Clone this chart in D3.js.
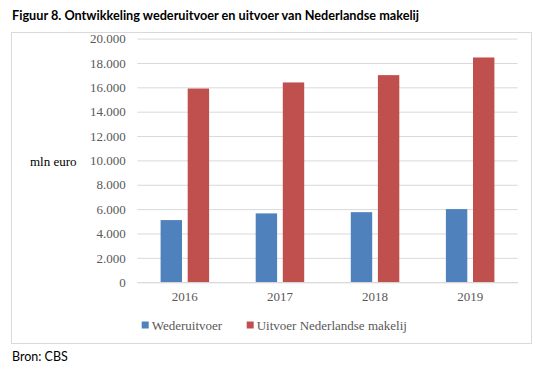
<!DOCTYPE html>
<html>
<head>
<meta charset="utf-8">
<script src="https://cdn.jsdelivr.net/npm/d3@7"></script>
<style>
  html, body { margin: 0; padding: 0; background: #fff; }
  svg { display: block; }
</style>
</head>
<body>
<svg id="chart" width="542" height="371"></svg>
<script>
const categories = ["2016", "2017", "2018", "2019"];
const seriesNames = ["Wederuitvoer", "Uitvoer Nederlandse makelij"];
const wederuitvoer = [5100, 5650, 5750, 6000];
const uitvoerNL = [15900, 16400, 17000, 18450];
const yTicks = [0, 2000, 4000, 6000, 8000, 10000, 12000, 14000, 16000, 18000, 20000];
const seriesColors = ["#4f81bd", "#c0504d"];
const titleText = "Figuur 8. Ontwikkeling wederuitvoer en uitvoer van Nederlandse makelij";
const sourceText = "Bron: CBS";
const yAxisTitle = "mln euro";

(function () {
const seriesValues = [wederuitvoer, uitvoerNL];
const rows = categories.map((c, i) => ({ cat: c, vals: seriesNames.map((s, j) => ({ s, j, v: seriesValues[j][i] })) }));

const svg = d3.select("#chart");
const serif = "'Liberation Serif', 'DejaVu Serif', serif";
const sans = "Lato, 'Open Sans', sans-serif";

// Title
svg.append("text")
  .attr("x", 12).attr("y", 20)
  .attr("font-family", sans).attr("font-weight", "bold")
  .attr("font-size", 12.7).attr("fill", "#000")
  .text(titleText);

// Chart frame
svg.append("rect")
  .attr("x", 11.5).attr("y", 32.5).attr("width", 520).attr("height", 311)
  .attr("fill", "#fff").attr("stroke", "#d9d9d9").attr("stroke-width", 1);

const pLeft = 137.3, pRight = 517.7, pTop = 38.6, pBottom = 282.2;

const x0 = d3.scaleBand().domain(categories).range([pLeft, pRight]).padding(0);
const half = 27.1;
const x1 = d3.scaleBand().domain(seriesNames).range([-half, half]).paddingInner(0.21).paddingOuter(0.105);
const y = d3.scaleLinear().domain([0, 20000]).range([pBottom, pTop]);

const fmt = v => d3.format(",")(v).replace(/,/g, ".");

// Gridlines + y labels via axis
const yAxis = d3.axisLeft(y).tickValues(yTicks).tickFormat(fmt).tickSize(-(pRight - pLeft)).tickPadding(11.6);
const gy = svg.append("g").attr("transform", `translate(${pLeft},0)`).call(yAxis);
gy.select(".domain").remove();
gy.selectAll(".tick line").attr("stroke", "#d9d9d9").attr("stroke-width", 1);
gy.selectAll(".tick text").attr("font-family", serif).attr("font-size", 13).attr("fill", "#595959");

// Bars
const groups = svg.append("g").selectAll("g").data(rows).join("g")
  .attr("transform", d => `translate(${x0(d.cat) + x0.bandwidth() / 2},0)`);
groups.selectAll("rect").data(d => d.vals).join("rect")
  .attr("x", d => x1(d.s))
  .attr("width", x1.bandwidth())
  .attr("y", d => y(d.v))
  .attr("height", d => y(0) - y(d.v))
  .attr("fill", d => seriesColors[d.j]);

// X axis
const xAxis = d3.axisBottom(x0).tickSize(0).tickPadding(10);
const gx = svg.append("g").attr("transform", `translate(0,${pBottom})`).call(xAxis);
gx.select(".domain").attr("stroke", "#d9d9d9");
gx.selectAll(".tick text").attr("font-family", serif).attr("font-size", 13).attr("fill", "#595959");

// Y axis title
svg.append("text")
  .attr("x", 30).attr("y", 166)
  .attr("font-family", serif).attr("font-size", 13).attr("fill", "#000")
  .text(yAxisTitle);

// Legend
const legendX = [141.7, 246.7];
const lg = svg.append("g").selectAll("g").data(seriesNames).join("g")
  .attr("transform", (d, i) => `translate(${legendX[i]},325)`);
lg.append("rect").attr("x", 0).attr("y", -3.5).attr("width", 7).attr("height", 7)
  .attr("fill", (d, i) => seriesColors[i]);
lg.append("text").attr("x", 10).attr("y", 4.5)
  .attr("font-family", serif).attr("font-size", 13).attr("fill", "#595959")
  .text(d => d);

// Source
svg.append("text")
  .attr("x", 12).attr("y", 361)
  .attr("font-family", sans).attr("font-size", 12.5).attr("fill", "#000")
  .text(sourceText);
})();
</script>
</body>
</html>
